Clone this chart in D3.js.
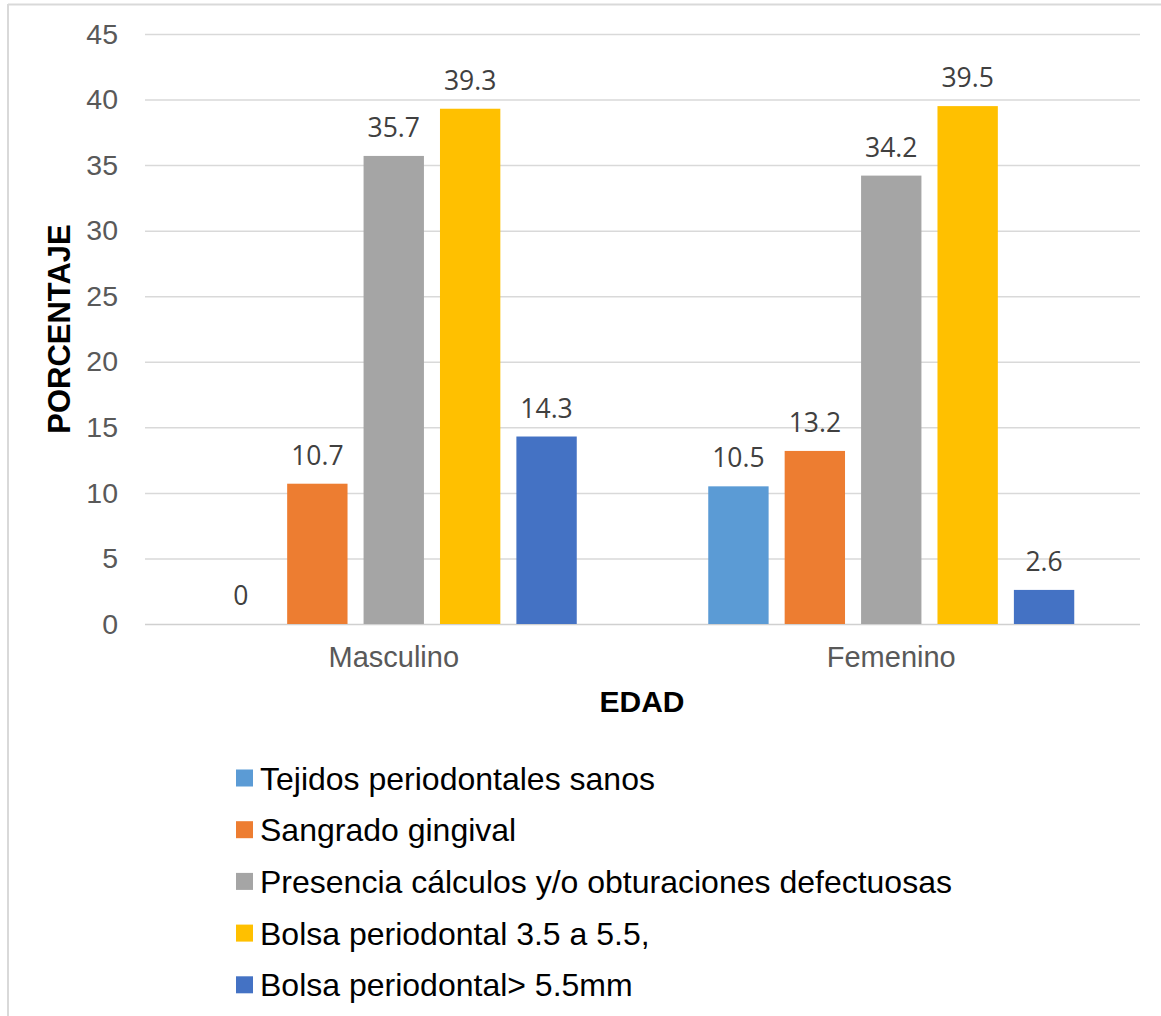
<!DOCTYPE html>
<html>
<head>
  <meta charset="utf-8" />
  <title>Porcentaje por sexo</title>
  <style>
    body { margin: 0; background: #fff; }
    #chartArea { width: 1161px; height: 1016px; }
    .grid line { stroke: #d9d9d9; stroke-width: 1.5px; }
    .grid path { display: none; }
    .tick text { fill: #595959; font-family: "Liberation Sans", Arial, sans-serif; }
  </style>
  <script src="https://cdnjs.cloudflare.com/ajax/libs/d3/7.8.5/d3.min.js"></script>
</head>
<body>
  <div id="chartArea"></div>
  <script>
    var categories = ['Masculino', 'Femenino'];
    var seriesNames = [
      'Tejidos periodontales sanos',
      'Sangrado gingival',
      'Presencia cálculos y/o obturaciones defectuosas',
      'Bolsa periodontal 3.5 a 5.5,',
      'Bolsa periodontal> 5.5mm'
    ];
    var seriesColors = ['#5b9bd5', '#ed7d31', '#a5a5a5', '#ffc000', '#4472c4'];
    var masculino = [0, 10.7, 35.7, 39.3, 14.3];
    var femenino = [10.5, 13.2, 34.2, 39.5, 2.6];
    var yTicks = [0, 5, 10, 15, 20, 25, 30, 35, 40, 45];

    var values = [masculino, femenino];

    var W = 1161, H = 1016;
    var plotLeft = 145, plotRight = 1140, plotTop = 34, plotBottom = 624;

    var svg = d3.select('#chartArea').append('svg')
      .attr('width', W)
      .attr('height', H);

    // outer frame (left and top edges visible)
    svg.append('line').attr('x1', 8).attr('x2', 8).attr('y1', 4).attr('y2', H)
      .attr('stroke', '#d9d9d9').attr('stroke-width', 2);
    svg.append('line').attr('x1', 8).attr('x2', W).attr('y1', 4.5).attr('y2', 4.5)
      .attr('stroke', '#d9d9d9').attr('stroke-width', 2);

    var yScale = d3.scaleLinear().domain([0, 45]).range([plotBottom, plotTop]);
    var x0 = d3.scaleBand().domain(categories).range([plotLeft, plotRight]).padding(0);
    var groupW = 366;
    var x1 = d3.scaleBand().domain(d3.range(seriesNames.length))
      .range([(x0.bandwidth() - groupW) / 2, (x0.bandwidth() + groupW) / 2])
      .paddingInner(0.21).paddingOuter(0);

    // gridlines + tick labels
    var yAxis = svg.append('g')
      .attr('class', 'grid')
      .attr('transform', 'translate(' + plotLeft + ',0)')
      .call(d3.axisLeft(yScale).tickValues(yTicks).tickSize(-(plotRight - plotLeft)).tickPadding(27));
    yAxis.selectAll('.tick text').style('font-size', '28.5px');
    yAxis.selectAll('.tick line').filter(function (d) { return d === 0; })
      .style('stroke', '#d0d0d0');

    // bars
    var groups = svg.selectAll('g.cat')
      .data(categories)
      .enter()
      .append('g')
      .attr('class', 'cat')
      .attr('transform', function (d) { return 'translate(' + x0(d) + ',0)'; });

    groups.selectAll('rect')
      .data(function (d, i) { return values[i].map(function (v, j) { return { v: v, j: j }; }); })
      .enter()
      .append('rect')
      .attr('x', function (d) { return x1(d.j); })
      .attr('width', x1.bandwidth())
      .attr('y', function (d) { return yScale(d.v); })
      .attr('height', function (d) { return plotBottom - yScale(d.v); })
      .attr('fill', function (d) { return seriesColors[d.j]; });

    groups.selectAll('text.lbl')
      .data(function (d, i) { return values[i].map(function (v, j) { return { v: v, j: j }; }); })
      .enter()
      .append('text')
      .attr('class', 'lbl')
      .attr('x', function (d) { return x1(d.j) + x1.bandwidth() / 2; })
      .attr('y', function (d) { return yScale(d.v) - 19; })
      .attr('text-anchor', 'middle')
      .style('font-family', '"Open Sans", sans-serif')
      .style('font-size', '26.5px')
      .style('fill', '#404040')
      .text(function (d) { return d.v; });

    // category labels
    svg.selectAll('text.catlbl')
      .data(categories)
      .enter()
      .append('text')
      .attr('class', 'catlbl')
      .attr('x', function (d) { return x0(d) + x0.bandwidth() / 2; })
      .attr('y', 667)
      .attr('text-anchor', 'middle')
      .style('font-family', '"Liberation Sans", Arial, sans-serif')
      .style('font-size', '29px')
      .style('fill', '#595959')
      .text(function (d) { return d; });

    // axis titles
    svg.append('text')
      .attr('transform', 'translate(70,329) rotate(-90)')
      .attr('text-anchor', 'middle')
      .style('font-family', '"Liberation Sans", Arial, sans-serif')
      .style('font-weight', 'bold')
      .style('font-size', '31px')
      .style('fill', '#000')
      .text('PORCENTAJE');

    svg.append('text')
      .attr('x', 642)
      .attr('y', 712)
      .attr('text-anchor', 'middle')
      .style('font-family', '"Liberation Sans", Arial, sans-serif')
      .style('font-weight', 'bold')
      .style('font-size', '30px')
      .style('fill', '#000')
      .text('EDAD');

    // legend
    var legend = svg.selectAll('g.legend')
      .data(seriesNames)
      .enter()
      .append('g')
      .attr('class', 'legend')
      .attr('transform', function (d, i) { return 'translate(236,' + (778 + i * 51.7) + ')'; });

    legend.append('rect')
      .attr('x', 0).attr('y', -8.5)
      .attr('width', 17).attr('height', 17)
      .attr('fill', function (d, i) { return seriesColors[i]; });

    legend.append('text')
      .attr('x', 24)
      .attr('y', 0)
      .attr('dy', '0.36em')
      .style('font-family', '"Liberation Sans", Arial, sans-serif')
      .style('font-size', '32px')
      .style('fill', '#000')
      .text(function (d) { return d; });
  </script>
</body>
</html>
